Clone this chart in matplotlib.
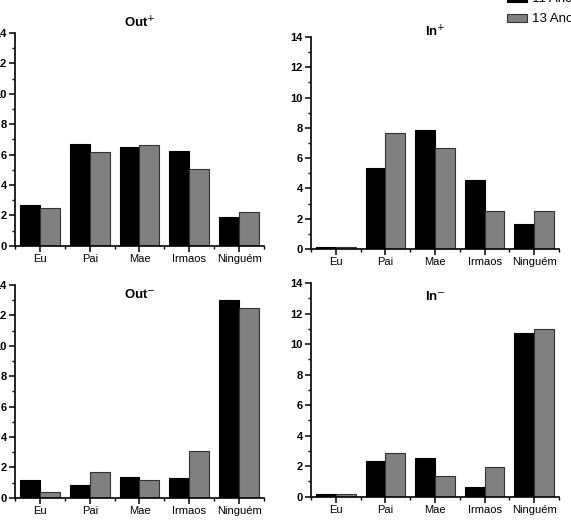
import matplotlib.pyplot as plt
import numpy as np

plt.rcParams['font.family'] = ['Liberation Sans', 'DejaVu Sans']

categories = ['Eu', 'Pai', 'Mae', 'Irmaos', 'Ninguém']
series_names = ['11 Anos', '13 Anos']

out_pos_11 = [2.69, 6.68, 6.51, 6.20, 1.86]
out_pos_13 = [2.50, 6.18, 6.66, 5.02, 2.19]
in_pos_11 = [0.13, 5.33, 7.86, 4.56, 1.65]
in_pos_13 = [0.13, 7.66, 6.67, 2.49, 2.49]
out_neg_11 = [1.18, 0.83, 1.34, 1.29, 13.03]
out_neg_13 = [0.35, 1.69, 1.18, 3.09, 12.51]
in_neg_11 = [0.15, 2.36, 2.52, 0.66, 10.70]
in_neg_13 = [0.15, 2.87, 1.36, 1.95, 10.98]

panels = [
    (r'Out$^{+}$', out_pos_11, out_pos_13, [0.0263, 0.5329, 0.4360, 0.4044], 1.047),
    (r'In$^{+}$', in_pos_11, in_pos_13, [0.5447, 0.5266, 0.4343, 0.4031], 1.024),
    (r'Out$^{-}$', out_neg_11, out_neg_13, [0.0263, 0.0538, 0.4360, 0.4044], 0.953),
    (r'In$^{-}$', in_neg_11, in_neg_13, [0.5447, 0.0557, 0.4343, 0.4063], 0.939),
]

fig = plt.figure(figsize=(5.71, 5.26), dpi=100)
x = np.arange(len(categories))
w = 0.4
handles = None
for title, v11, v13, rect, ty in panels:
    ax = fig.add_axes(rect)
    b1 = ax.bar(x - w / 2, v11, w, color='black', edgecolor='black', linewidth=0.8)
    b2 = ax.bar(x + w / 2, v13, w, color='#808080', edgecolor='#333333', linewidth=0.8)
    handles = [b1, b2]
    ax.set_xlim(-0.5, 4.5)
    ax.set_ylim(0, 14)
    ax.set_yticks(range(0, 15, 2))
    ax.set_yticks(range(1, 15, 2), minor=True)
    ax.set_xticks(x)
    ax.set_xticks(np.arange(-0.5, 5, 1), minor=True)
    ax.set_xticklabels(categories, fontsize=8)
    for lab in ax.get_yticklabels():
        lab.set_fontsize(8)
        lab.set_fontweight('bold')
    for s in ['top', 'right']:
        ax.spines[s].set_visible(False)
    for s in ['left', 'bottom']:
        ax.spines[s].set_linewidth(1.2)
    ax.tick_params(which='major', direction='out', length=4, width=1.1, pad=2)
    ax.tick_params(which='minor', direction='out', length=2.5, width=1.0)
    ax.text(0.5, ty, title, transform=ax.transAxes, ha='center', va='center',
            fontsize=9.5, fontweight='bold')

fig.legend(handles, series_names, loc='upper left', bbox_to_anchor=(0.872, 1.03),
           frameon=False, fontsize=9.5, handlelength=1.5, handleheight=0.55,
           handletextpad=0.35, labelspacing=0.6, borderpad=0.2)

fig.savefig('out.png', dpi=100)
